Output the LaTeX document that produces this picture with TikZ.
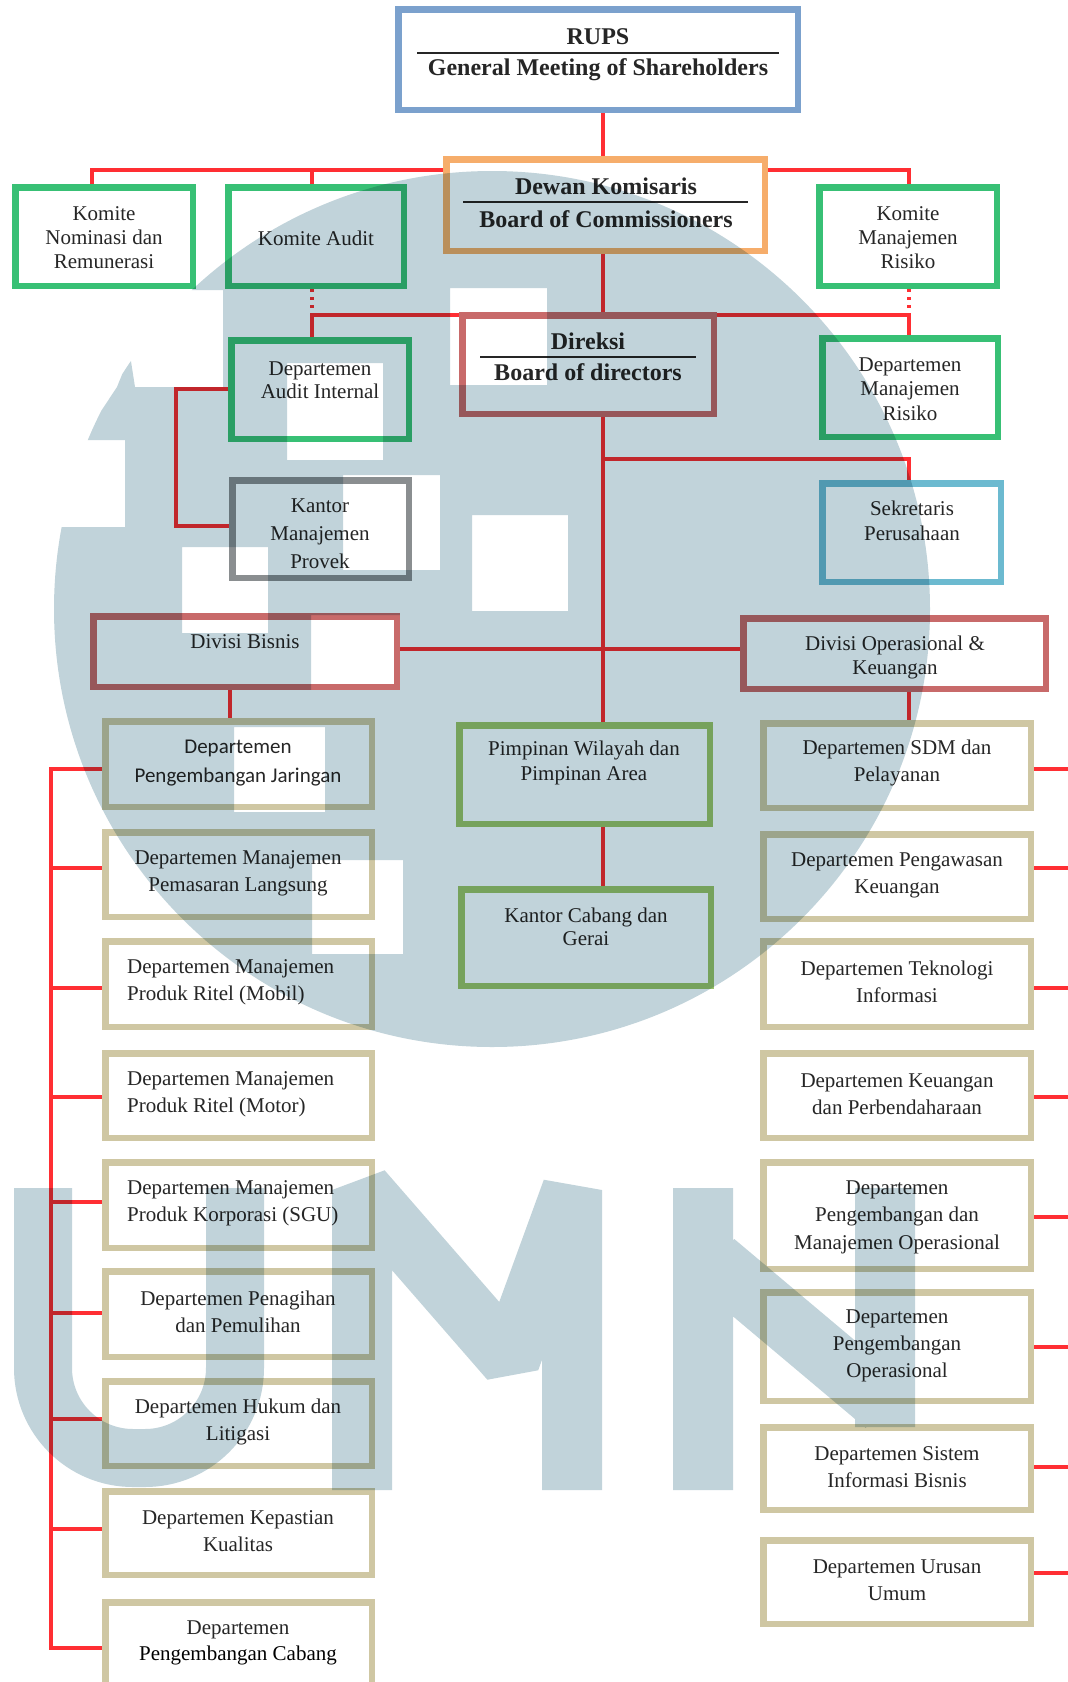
\documentclass[tikz,border=0pt]{standalone}
\usepackage{fontspec}
\setmainfont{Liberation Serif}
\newfontfamily\calibfont{Carlito}
\definecolor{cRed}{HTML}{FF2E33}
\definecolor{cRups}{HTML}{7BA1CD}
\definecolor{cOrange}{HTML}{F6AD6B}
\definecolor{cGreen}{HTML}{38C075}
\definecolor{cMaroon}{HTML}{C86A6A}
\definecolor{cGray}{HTML}{8A8E90}
\definecolor{cTeal}{HTML}{6CBAD0}
\definecolor{cOlive}{HTML}{9CC46C}
\definecolor{cBeige}{HTML}{CFC7A3}
\definecolor{cWm}{HTML}{C1D3DA}
\definecolor{cText}{HTML}{262626}
\tikzset{
  obox/.style={draw=#1, line width=6.5pt, fill=white, inner sep=0pt},
  conn/.style={draw=cRed, line width=3.5pt},
  dotc/.style={draw=cRed, line width=3.5pt, dash pattern=on 3pt off 5pt},
  rulel/.style={draw=cText, line width=1.7pt},
  txt/.style={text=cText, align=center, inner sep=0pt, yshift=-3pt, font=\fontsize{21}{#1}\selectfont},
  txt/.default=27,
  btxt/.style={text=cText, inner sep=0pt, font=\fontsize{24}{28}\selectfont\bfseries},
}
\newcommand\orgbox[6]{\node[obox=#2, minimum width=#5pt-#3pt-6.5pt, minimum height=#6pt-#4pt-6.5pt] (#1) at ({(#3+#5)/2},{(#4+#6)/2}) {};}
\begin{document}
\begin{tikzpicture}[x=1pt,y=-1pt]
\useasboundingbox (0,0) rectangle (1068,1682);
\clip (0,0) rectangle (1068,1682);
\fill[white] (0,0) rectangle (1068,1682);

% ---------- boxes ----------
\orgbox{rups}{cRups}{395}{6}{801}{113}
\orgbox{dewan}{cOrange}{443}{156}{768}{254}
\orgbox{komnom}{cGreen}{12}{184}{196}{289}
\orgbox{komaudit}{cGreen}{225}{184}{407}{289}
\orgbox{kommr}{cGreen}{816}{184}{1000}{289}
\orgbox{direksi}{cMaroon}{459}{312}{717}{417}
\orgbox{audint}{cGreen}{228}{337}{412}{442}
\orgbox{depmr}{cGreen}{819}{335}{1001}{440}
\orgbox{kantormp}{cGray}{229}{477}{412}{581}
\orgbox{sekre}{cTeal}{819}{480}{1004}{585}
\orgbox{divbis}{cMaroon}{90}{613}{400}{690}
\orgbox{divop}{cMaroon}{740}{615}{1049}{692}
\orgbox{pimpinan}{cOlive}{456}{722}{713}{827}
\orgbox{kcabang}{cOlive}{458}{886}{714}{989}
% left column
\orgbox{jaringan}{cBeige}{102}{718}{375}{810}
\orgbox{pemasaran}{cBeige}{102}{829}{375}{920}
\orgbox{mobil}{cBeige}{102}{938}{375}{1030}
\orgbox{motor}{cBeige}{102}{1050}{375}{1141}
\orgbox{korporasi}{cBeige}{102}{1159}{375}{1251}
\orgbox{penagihan}{cBeige}{102}{1268}{375}{1360}
\orgbox{hukum}{cBeige}{102}{1378}{375}{1469}
\orgbox{kepastian}{cBeige}{102}{1488}{375}{1578}
\orgbox{cabang}{cBeige}{102}{1599}{375}{1720}
% right column
\orgbox{sdm}{cBeige}{760}{720}{1034}{811}
\orgbox{pengawasan}{cBeige}{760}{831}{1034}{922}
\orgbox{teknologi}{cBeige}{760}{938}{1034}{1030}
\orgbox{keuangan}{cBeige}{760}{1050}{1034}{1141}
\orgbox{pmo}{cBeige}{760}{1159}{1034}{1272}
\orgbox{po}{cBeige}{760}{1289}{1034}{1404}
\orgbox{sib}{cBeige}{760}{1424}{1034}{1513}
\orgbox{urusan}{cBeige}{760}{1537}{1034}{1627}

% ---------- junction coordinates ----------
\coordinate (j1) at (603,170);
\coordinate (j3) at (603,459);
\coordinate (j4) at (603,649);
\coordinate (t1) at (92,170);
\coordinate (t2) at (312,170);
\coordinate (t3) at (909,170);
\coordinate (s1) at (312,315);
\coordinate (s2) at (909,315);
\coordinate (b1) at (176,389);
\coordinate (b2) at (176,526);
\coordinate (d1) at (230,700);
\coordinate (L1) at (51,769);
\coordinate (L2) at (51,868);
\coordinate (L3) at (51,988);
\coordinate (L4) at (51,1097);
\coordinate (L5) at (51,1202);
\coordinate (L6) at (51,1313);
\coordinate (L7) at (51,1419);
\coordinate (L8) at (51,1529);
\coordinate (L9) at (51,1648);
\coordinate (R1) at (1072,769);
\coordinate (R2) at (1072,868);
\coordinate (R3) at (1072,988);
\coordinate (R4) at (1072,1097);
\coordinate (R5) at (1072,1217);
\coordinate (R6) at (1072,1347);
\coordinate (R7) at (1072,1467);
\coordinate (R8) at (1072,1573);

% ---------- connectors ----------
\draw[conn] (rups.south -| j1) -- (dewan.north -| j1);
\draw[conn] (komnom.north -| t1) |- (dewan.west |- t1);
\draw[conn] (komaudit.north -| t2) -- (t2);
\draw[conn] (kommr.north -| t3) |- (dewan.east |- t3);
\draw[conn] (dewan.south -| j1) -- (direksi.north -| j1);
\draw[dotc] (komaudit.south -| s1) -- (s1);
\draw[dotc] (kommr.south -| s2) -- (s2);
\draw[conn] (audint.north -| s1) |- (direksi.west |- s1);
\draw[conn] (depmr.north -| s2) |- (direksi.east |- s2);
\draw[conn] (audint.west |- b1) -| (b2) -- (kantormp.west |- b2);
\draw[conn] (direksi.south -| j1) -- (pimpinan.north -| j1);
\draw[conn] (j3) -| (sekre.north -| s2);
\draw[conn] (divbis.east |- j4) -- (divop.west |- j4);
\draw[conn] (pimpinan.south -| j1) -- (kcabang.north -| j1);
\draw[conn] (divbis.south -| d1) -- (jaringan.north -| d1);
\draw[conn] (divop.south -| s2) -- (sdm.north -| s2);
% left bus
\draw[conn] (jaringan.west |- L1) -- (L1) -- (L9) -- (cabang.west |- L9);
\draw[conn] (L2) -- (pemasaran.west |- L2);
\draw[conn] (L3) -- (mobil.west |- L3);
\draw[conn] (L4) -- (motor.west |- L4);
\draw[conn] (L5) -- (korporasi.west |- L5);
\draw[conn] (L6) -- (penagihan.west |- L6);
\draw[conn] (L7) -- (hukum.west |- L7);
\draw[conn] (L8) -- (kepastian.west |- L8);
% right stubs
\draw[conn] (sdm.east |- R1) -- (R1);
\draw[conn] (pengawasan.east |- R2) -- (R2);
\draw[conn] (teknologi.east |- R3) -- (R3);
\draw[conn] (keuangan.east |- R4) -- (R4);
\draw[conn] (pmo.east |- R5) -- (R5);
\draw[conn] (po.east |- R6) -- (R6);
\draw[conn] (sib.east |- R7) -- (R7);
\draw[conn] (urusan.east |- R8) -- (R8);

% ---------- texts ----------
\node[btxt] (rups-t1) at (598,37) {RUPS};
\node[btxt] (rups-t2) at (598,70) {General Meeting of Shareholders};
\draw[rulel] (417,52.7) -- (779,52.7);
\node[btxt] (dewan-t1) at (606,186) {Dewan Komisaris};
\node[btxt] (dewan-t2) at (606,219) {Board of Commissioners};
\draw[rulel] (463,202) -- (748,202);
\node[btxt] (direksi-t1) at (588,341) {Direksi};
\node[btxt] (direksi-t2) at (588,372) {Board of directors};
\draw[rulel] (480,357) -- (696,357);

\node[txt=24] (komnom-t) at (104,235) {Komite\\Nominasi dan\\Remunerasi};
\node[txt] (komaudit-t) at (316,235) {Komite Audit};
\node[txt=24] (kommr-t) at (908,235) {Komite\\Manajemen\\Risiko};
\node[txt=23.5] (audint-t) at (320,377) {Departemen\\Audit Internal};
\node[txt=24.5] (depmr-t) at (910,386) {Departemen\\Manajemen\\Risiko};
\node[txt=28] (kantormp-t) at (320,531) {Kantor\\Manajemen\\Provek};
\node[txt=25] (sekre-t) at (912,518) {Sekretaris\\Perusahaan};
\node[txt] (divbis-t) at (245,639) {Divisi Bisnis};
\node[txt=24] (divop-t) at (895,654) {Divisi Operasional \&\\Keuangan};
\node[txt=25] (pimpinan-t) at (584,760) {Pimpinan Wilayah dan\\Pimpinan Area};
\node[txt=23] (kcabang-t) at (586,924) {Kantor Cabang dan\\Gerai};

\node[txt, font=\calibfont\fontsize{21}{29}\selectfont] (jaringan-t) at (238,760) {Departemen\\Pengembangan Jaringan};
\node[txt] (pemasaran-t) at (238,870) {Departemen Manajemen\\Pemasaran Langsung};
\node[txt, align=left, anchor=west] (mobil-t) at (127,979) {Departemen Manajemen\\Produk Ritel (Mobil)};
\node[txt, align=left, anchor=west] (motor-t) at (127,1091) {Departemen Manajemen\\Produk Ritel (Motor)};
\node[txt, align=left, anchor=west] (korporasi-t) at (127,1200) {Departemen Manajemen\\Produk Korporasi (SGU)};
\node[txt] (penagihan-t) at (238,1309) {Departemen Penagihan\\dan Pemulihan};
\node[txt] (hukum-t) at (238,1419) {Departemen Hukum dan\\Litigasi};
\node[txt] (kepastian-t) at (238,1528) {Departemen Kepastian\\Kualitas};
\node[txt=26] (cabang-t) at (238,1640) {Departemen\\\textcolor{black}{Pengembangan Cabang}};

\node[txt] (sdm-t) at (897,760) {Departemen SDM dan\\Pelayanan};
\node[txt] (pengawasan-t) at (897,872) {Departemen Pengawasan\\Keuangan};
\node[txt] (teknologi-t) at (897,979) {Departemen Teknologi\\Informasi};
\node[txt] (keuangan-t) at (897,1091) {Departemen Keuangan\\dan Perbendaharaan};
\node[txt=27.5] (pmo-t) at (897,1214) {Departemen\\Pengembangan dan\\Manajemen Operasional};
\node[txt] (po-t) at (897,1343) {Departemen\\Pengembangan\\Operasional};
\node[txt] (sib-t) at (897,1464) {Departemen Sistem\\Informasi Bisnis};
\node[txt] (urusan-t) at (897,1577) {Departemen Urusan\\Umum};

% ---------- watermark ----------
\begin{scope}[blend mode=multiply]
  \begin{scope}
    \clip (492,609) circle[radius=438];
    \fill[cWm, even odd rule] (0,0) rectangle (1068,1100)
      (472,515) rectangle (568,611)
      (182,547) rectangle (268,633)
      (287,363) rectangle (383,460)
      (343,475) rectangle (440,570)
      (450,288) rectangle (547,385)
      (311,615) rectangle (400,690)
      (234,727) rectangle (325,812)
      (312,860) rectangle (403,954)
      (30,290) -- (223,290) -- (223,387) -- (135,387) -- (130,355) -- (117,387) -- (82,440) -- (125,440) -- (125,527) -- (30,527) -- cycle;
  \end{scope}
  \draw[cWm, line width=58pt, rounded corners=90pt] (43,1188) -- (43,1458) -- (235,1458) -- (235,1188);
  \draw[cWm, line width=60pt, line join=bevel]
    (362,1490) -- (362,1190) -- (510,1360) -- (572,1190) -- (572,1490)
    (703,1490) -- (703,1188)
    (715,1262) -- (885,1405)
    (885,1427) -- (885,1188);
\end{scope}
\end{tikzpicture}
\end{document}
